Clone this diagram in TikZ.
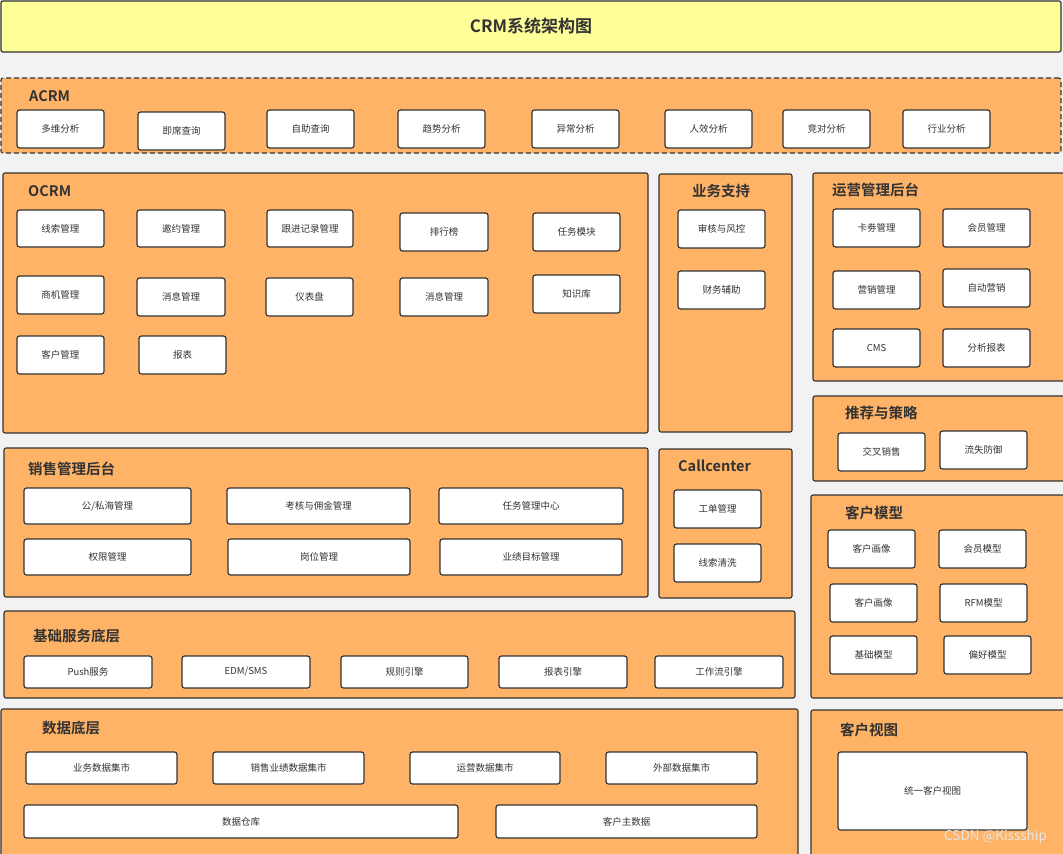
\documentclass[tikz,border=0pt]{standalone}
\usepackage{fontspec}
\setmainfont{Noto Sans CJK SC}[BoldFont={Noto Sans CJK SC Bold}]
\definecolor{bg}{HTML}{F2F2F2}
\definecolor{org}{HTML}{FFB366}
\definecolor{ttl}{HTML}{FFFF99}
\definecolor{bd}{HTML}{333333}
\definecolor{tx}{HTML}{333333}
\definecolor{wm}{HTML}{E6E6E6}
\tikzset{
  panel/.style={draw=bd, fill=org, line width=1.1pt, rounded corners=2pt, inner sep=0pt, outer sep=0pt},
  wbox/.style={draw=bd, fill=white, line width=1.2pt, rounded corners=2.5pt, inner sep=0pt, outer sep=0pt, text=tx, font=\fontsize{9.5}{11}\selectfont},
  hdr/.style={anchor=west, inner sep=0pt, text=tx, font=\fontsize{14.5}{16}\selectfont\bfseries},
}
\newcommand\wb[6]{\node[wbox, minimum width={(#4-#2)*1pt}, minimum height={(#5-#3)*1pt}] (#1) at ({(#2+#4)/2},{(#3+#5)/2}) {#6};}
\newcommand\pn[5]{\node[panel, minimum width={(#4-#2)*1pt}, minimum height={(#5-#3)*1pt}] (#1) at ({(#2+#4)/2},{(#3+#5)/2}) {};}
\begin{document}
\begin{tikzpicture}[x=1pt,y=-1pt]
\fill[bg] (0,0) rectangle (1063,854);
\useasboundingbox (0,0) rectangle (1063,854);
% title
\node[draw=bd, fill=ttl, line width=1.2pt, rounded corners=2pt, minimum width=1060pt, minimum height=51pt, inner sep=0pt, text=tx, font=\fontsize{17}{20}\selectfont\bfseries] (title) at (531,26.5) {CRM系统架构图};
% ACRM
\node[draw=bd, dashed, dash pattern=on 5pt off 3pt, fill=org, line width=1.1pt, rounded corners=2pt, minimum width=1060pt, minimum height=75pt, inner sep=0pt] (acrm) at (531,115.5) {};
\node[hdr] (acrmh) at (29,96) {ACRM};
\wb{a1}{17}{110}{104}{148}{多维分析}
\wb{a2}{138}{112}{225}{150}{即席查询}
\wb{a3}{267}{110}{354}{148}{自助查询}
\wb{a4}{398}{110}{485}{148}{趋势分析}
\wb{a5}{532}{110}{619}{148}{异常分析}
\wb{a6}{665}{110}{752}{148}{人效分析}
\wb{a7}{783}{110}{870}{148}{竞对分析}
\wb{a8}{903}{110}{990}{148}{行业分析}
% OCRM
\pn{ocrm}{3}{173}{648}{433}
\node[hdr] (ocrmh) at (28,191) {OCRM};
\wb{o1}{17}{210}{104}{247}{线索管理}
\wb{o2}{137}{210}{225}{247}{邀约管理}
\wb{o3}{267}{210}{353}{247}{跟进记录管理}
\wb{o4}{400}{213}{488}{251}{排行榜}
\wb{o5}{533}{213}{620}{251}{任务模块}
\wb{o6}{17}{276}{104}{314}{商机管理}
\wb{o7}{137}{278}{225}{316}{消息管理}
\wb{o8}{266}{278}{353}{316}{仪表盘}
\wb{o9}{400}{278}{488}{316}{消息管理}
\wb{o10}{533}{275}{620}{313}{知识库}
\wb{o11}{17}{336}{104}{374}{客户管理}
\wb{o12}{139}{336}{226}{374}{报表}
% 业务支持
\pn{ywzc}{659}{174}{792}{432}
\node[hdr, anchor=center] (ywzch) at (721,191) {业务支持};
\wb{y1}{678}{210}{765}{248}{审核与风控}
\wb{y2}{678}{271}{765}{309}{财务辅助}
% 运营管理后台
\pn{yy}{813}{173}{1066}{381}
\node[hdr] (yyh) at (832,190) {运营管理后台};
\wb{p1}{833}{209}{920}{247}{卡劵管理}
\wb{p2}{943}{209}{1030}{247}{会员管理}
\wb{p3}{833}{271}{920}{309}{营销管理}
\wb{p4}{943}{269}{1030}{307}{自动营销}
\wb{p5}{833}{329}{920}{367}{CMS}
\wb{p6}{943}{329}{1030}{367}{分析报表}
% 推荐与策略
\pn{tj}{813}{396}{1066}{481}
\node[hdr] (tjh) at (845,413) {推荐与策略};
\wb{t1}{838}{433}{925}{471}{交叉销售}
\wb{t2}{940}{431}{1027}{469}{流失防御}
% Callcenter
\pn{cc}{659}{449}{792}{598}
\node[hdr] (cch) at (678,466) {Callcenter};
\wb{c1}{674}{490}{761}{528}{工单管理}
\wb{c2}{674}{544}{761}{582}{线索清洗}
% 销售管理后台
\pn{xs}{4}{448}{648}{597}
\node[hdr] (xsh) at (28,469) {销售管理后台};
\wb{s1}{24}{488}{191}{524}{公/私海管理}
\wb{s2}{227}{488}{410}{524}{考核与佣金管理}
\wb{s3}{439}{488}{623}{524}{任务管理中心}
\wb{s4}{24}{539}{191}{575}{权限管理}
\wb{s5}{228}{539}{410}{575}{岗位管理}
\wb{s6}{440}{539}{622}{575}{业绩目标管理}
% 客户模型
\pn{km}{811}{495}{1066}{698}
\node[hdr] (kmh) at (845,513) {客户模型};
\wb{k1}{828}{530}{915}{568}{客户画像}
\wb{k2}{939}{530}{1026}{568}{会员模型}
\wb{k3}{830}{584}{917}{622}{客户画像}
\wb{k4}{940}{584}{1027}{622}{RFM模型}
\wb{k5}{830}{636}{917}{674}{基础模型}
\wb{k6}{944}{636}{1031}{674}{偏好模型}
% 基础服务底层
\pn{jc}{4}{611}{795}{698}
\node[hdr] (jch) at (33,636) {基础服务底层};
\wb{j1}{24}{656}{152}{688}{Push服务}
\wb{j2}{182}{656}{310}{688}{EDM/SMS}
\wb{j3}{341}{656}{468}{688}{规则引擎}
\wb{j4}{499}{656}{627}{688}{报表引擎}
\wb{j5}{655}{656}{783}{688}{工作流引擎}
% 数据底层
\pn{sj}{1}{709}{798}{858}
\node[hdr] (sjh) at (42,728) {数据底层};
\wb{d1}{26}{752}{177}{784}{业务数据集市}
\wb{d2}{213}{752}{364}{784}{销售业绩数据集市}
\wb{d3}{410}{752}{560}{784}{运营数据集市}
\wb{d4}{606}{752}{757}{784}{外部数据集市}
\wb{d5}{24}{805}{458}{838}{数据仓库}
\wb{d6}{496}{805}{757}{838}{客户主数据}
% 客户视图
\pn{kv}{811}{710}{1066}{858}
\node[hdr] (kvh) at (840,730) {客户视图};
\wb{v1}{838}{752}{1027}{830}{统一客户视图}
% watermark
\node[anchor=west, inner sep=0pt, text=wm, font=\fontsize{13.5}{15}\selectfont] (wmk) at (944,837) {CSDN @Kissship};
\end{tikzpicture}
\end{document}
